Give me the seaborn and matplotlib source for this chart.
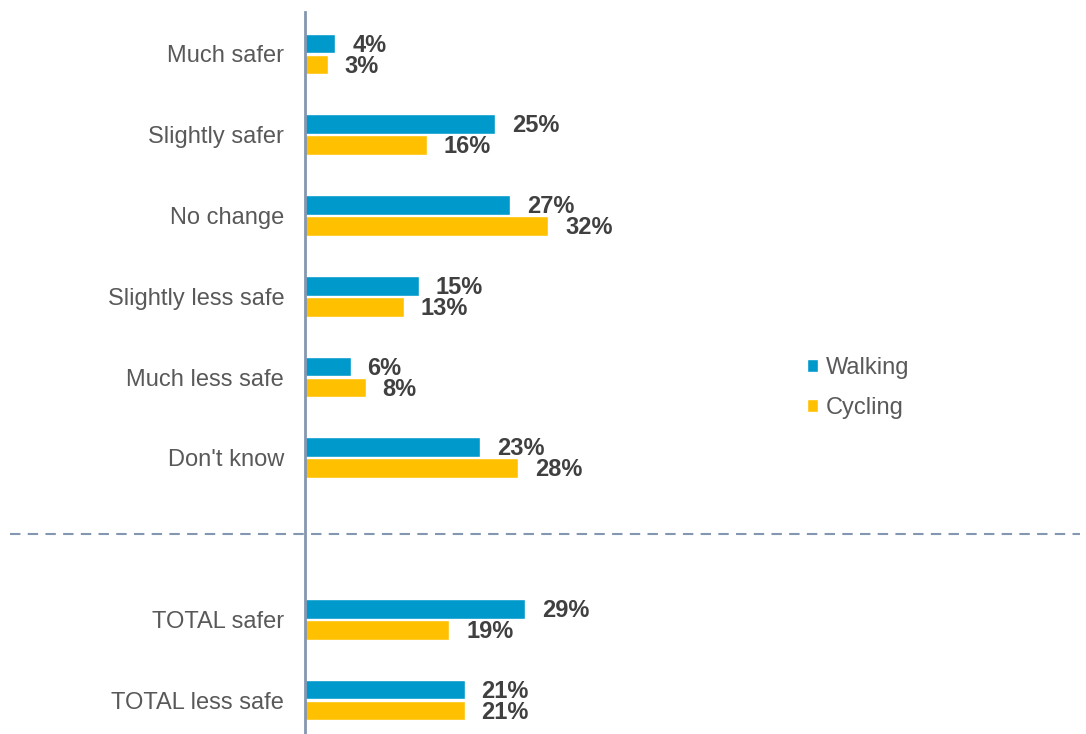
import matplotlib
matplotlib.use("Agg")
import matplotlib.pyplot as plt
import matplotlib.transforms as mtransforms
import seaborn as sns
import pandas as pd

categories = ["Much safer", "Slightly safer", "No change", "Slightly less safe",
              "Much less safe", "Don't know", "TOTAL safer", "TOTAL less safe"]
walking = [4, 25, 27, 15, 6, 23, 29, 21]
cycling = [3, 16, 32, 13, 8, 28, 19, 21]
series = ["Walking", "Cycling"]
colors = {"Walking": "#0099CC", "Cycling": "#FFC000"}

sns.set_theme(style="white")
plt.rcParams["font.family"] = ["Liberation Sans", "DejaVu Sans"]

# slot positions: gap of one slot before the TOTAL rows
pos = [i if i < 6 else i + 1 for i in range(len(categories))]

rows = []
for p, w, c in zip(pos, walking, cycling):
    rows.append({"pos": p, "value": w, "series": "Walking"})
    rows.append({"pos": p, "value": c, "series": "Cycling"})
df = pd.DataFrame(rows)

fig = plt.figure(figsize=(10.86, 7.34), dpi=100)
ax = fig.add_axes([305 / 1086, 0.0, 775 / 1086, 722 / 734])

sns.barplot(data=df, x="value", y="pos", hue="series", hue_order=series,
            palette=colors, orient="h", native_scale=True, width=0.52, gap=0.06,
            ax=ax, saturation=1, errorbar=None)

for cont, vals in zip(ax.containers, [walking, cycling]):
    texts = ax.bar_label(cont, labels=[f"{v}%" for v in vals], padding=12.2,
                         fontsize=17, fontweight="bold", color="#404040")
    for t in texts:
        x0, y0 = t.xyann
        t.xyann = (x0, y0 - 1.2)

ax.set_xlim(0, 102)
ax.set_ylim(8.42, -0.52)
ax.set_yticks(pos)
ax.set_yticklabels(categories, fontsize=17, color="#595959")
ax.tick_params(axis="y", length=0, pad=15)
ax.set_xticks([])
ax.set_xlabel("")
ax.set_ylabel("")
for s in ["top", "right", "bottom"]:
    ax.spines[s].set_visible(False)
ax.spines["left"].set_color("#8497B0")
ax.spines["left"].set_linewidth(2)

# dashed separator
trans = mtransforms.blended_transform_factory(fig.transFigure, ax.transData)
ax.plot([10 / 1086, 1080 / 1086], [5.94, 5.94], transform=trans, clip_on=False,
        color="#8497B0", linewidth=1.5, linestyle=(0, (5, 3.5)))

handles, labels = ax.get_legend_handles_labels()
ax.legend(handles, labels, loc="center left", bbox_to_anchor=(786 / 1086, 1 - 388 / 734),
          bbox_transform=fig.transFigure, frameon=False, fontsize=17,
          handlelength=0.45, handleheight=0.45, handletextpad=0.35,
          labelspacing=0.75, labelcolor="#595959")

fig.savefig("out.png", dpi=100)
